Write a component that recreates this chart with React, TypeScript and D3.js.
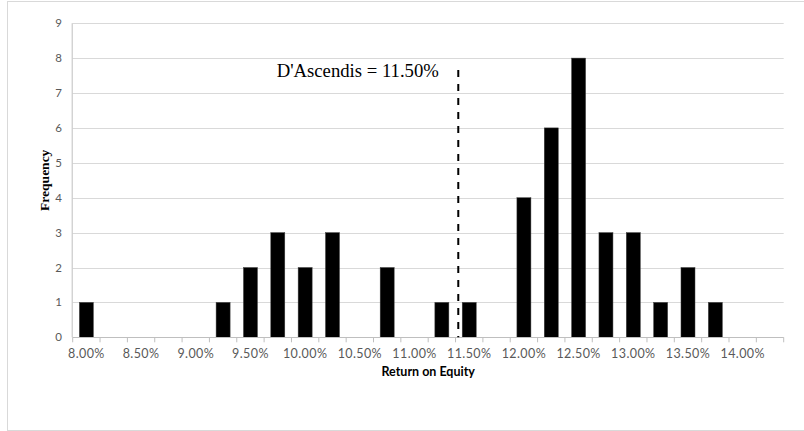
import React from "react";
import * as d3 from "d3";

// Return-on-equity bins (0.25% steps) and how many estimates fall in each
const bins: number[] = [
  8.0, 8.25, 8.5, 8.75, 9.0, 9.25, 9.5, 9.75, 10.0, 10.25, 10.5, 10.75, 11.0,
  11.25, 11.5, 11.75, 12.0, 12.25, 12.5, 12.75, 13.0, 13.25, 13.5, 13.75, 14.0,
  14.25,
];
const counts: number[] = [
  1, 0, 0, 0, 0, 1, 2, 3, 2, 3, 0, 2, 0, 1, 1, 0, 4, 6, 8, 3, 3, 1, 2, 1, 0, 0,
];
const yTicks: number[] = [0, 1, 2, 3, 4, 5, 6, 7, 8, 9];
const markerValue = 11.5;
const markerLabel = "D'Ascendis = 11.50%";

const W = 804;
const H = 431;
const plot = { left: 72.7, right: 783.7, top: 23.2, bottom: 337.3 };

const fmt = (v: number) => v.toFixed(2) + "%";

export default function App() {
  const keys = bins.map(fmt);
  const x = d3
    .scaleBand<string>()
    .domain(keys)
    .range([plot.left, plot.right])
    .paddingInner(0.488)
    .paddingOuter(0.244);
  const step = x.step();
  const bandStart = (k: string) => (x(k) as number) - (step * 0.488) / 2;
  const y = d3.scaleLinear().domain([0, 9]).range([plot.bottom, plot.top]);

  const tickXs = d3.range(keys.length + 1).map((i) => plot.left + i * step);
  const markerX = bandStart(fmt(markerValue)) + step * 0.1;

  const labelFont = "Lato, 'Open Sans', sans-serif";

  return (
    <svg
      width={W}
      height={H}
      style={{ position: "absolute", left: 0, top: 0, background: "#fff" }}
    >
      <rect
        x={7.5}
        y={1.5}
        width={W + 10}
        height={429}
        fill="#fff"
        stroke="#d9d9d9"
        strokeWidth={1}
      />
      {/* horizontal gridlines */}
      {yTicks.slice(1).map((t) => (
        <line
          key={"g" + t}
          x1={plot.left}
          x2={plot.right}
          y1={Math.round(y(t)) + 0.5}
          y2={Math.round(y(t)) + 0.5}
          stroke="#d9d9d9"
          strokeWidth={1}
        />
      ))}
      {/* y tick labels */}
      {yTicks.map((t) => (
        <text
          key={"y" + t}
          x={62}
          y={y(t)}
          dy="0.35em"
          textAnchor="end"
          fontFamily={labelFont}
          fontSize={11.5}
          fill="#595959"
        >
          {t}
        </text>
      ))}
      {/* bars */}
      {keys.map((k, i) =>
        counts[i] > 0 ? (
          <rect
            key={"b" + k}
            x={x(k)}
            y={y(counts[i])}
            width={x.bandwidth()}
            height={y(0) - y(counts[i])}
            fill="#000"
            stroke="#404040"
            strokeWidth={0.5}
          />
        ) : null
      )}
      {/* axes */}
      <line
        x1={plot.left - 0.5}
        x2={plot.left - 0.5}
        y1={plot.top}
        y2={plot.bottom}
        stroke="#bfbfbf"
      />
      <line
        x1={plot.left}
        x2={plot.right}
        y1={Math.round(plot.bottom) + 0.5}
        y2={Math.round(plot.bottom) + 0.5}
        stroke="#bfbfbf"
      />
      {tickXs.map((tx, i) => (
        <line
          key={"t" + i}
          x1={tx}
          x2={tx}
          y1={plot.bottom}
          y2={plot.bottom + 5}
          stroke="#bfbfbf"
        />
      ))}
      {/* x tick labels on every other bin */}
      {keys.map((k, i) =>
        i % 2 === 0 && i < 25 ? (
          <text
            key={"x" + k}
            x={(x(k) as number) + x.bandwidth() / 2}
            y={358}
            textAnchor="middle"
            fontFamily={labelFont}
            fontSize={12.5}
            letterSpacing={0.4}
            fill="#595959"
          >
            {k}
          </text>
        ) : null
      )}
      {/* axis titles */}
      <text
        x={(plot.left + plot.right) / 2}
        y={375.5}
        textAnchor="middle"
        fontFamily={labelFont}
        fontWeight="bold"
        fontSize={12.5}
        fill="#000"
      >
        Return on Equity
      </text>
      <text
        transform={`translate(48.5,${(plot.top + plot.bottom) / 2}) rotate(-90)`}
        textAnchor="middle"
        fontFamily="'Liberation Serif', serif"
        fontWeight="bold"
        fontSize={13.5}
        fill="#000"
      >
        Frequency
      </text>
      {/* reference line */}
      <line
        x1={markerX}
        x2={markerX}
        y1={70}
        y2={plot.bottom}
        stroke="#000"
        strokeWidth={2}
        strokeDasharray="7,7"
      />
      <text
        x={276.7}
        y={76.5}
        fontFamily="'Liberation Serif', serif"
        fontSize={18.7}
        fill="#000"
      >
        {markerLabel}
      </text>
    </svg>
  );
}
